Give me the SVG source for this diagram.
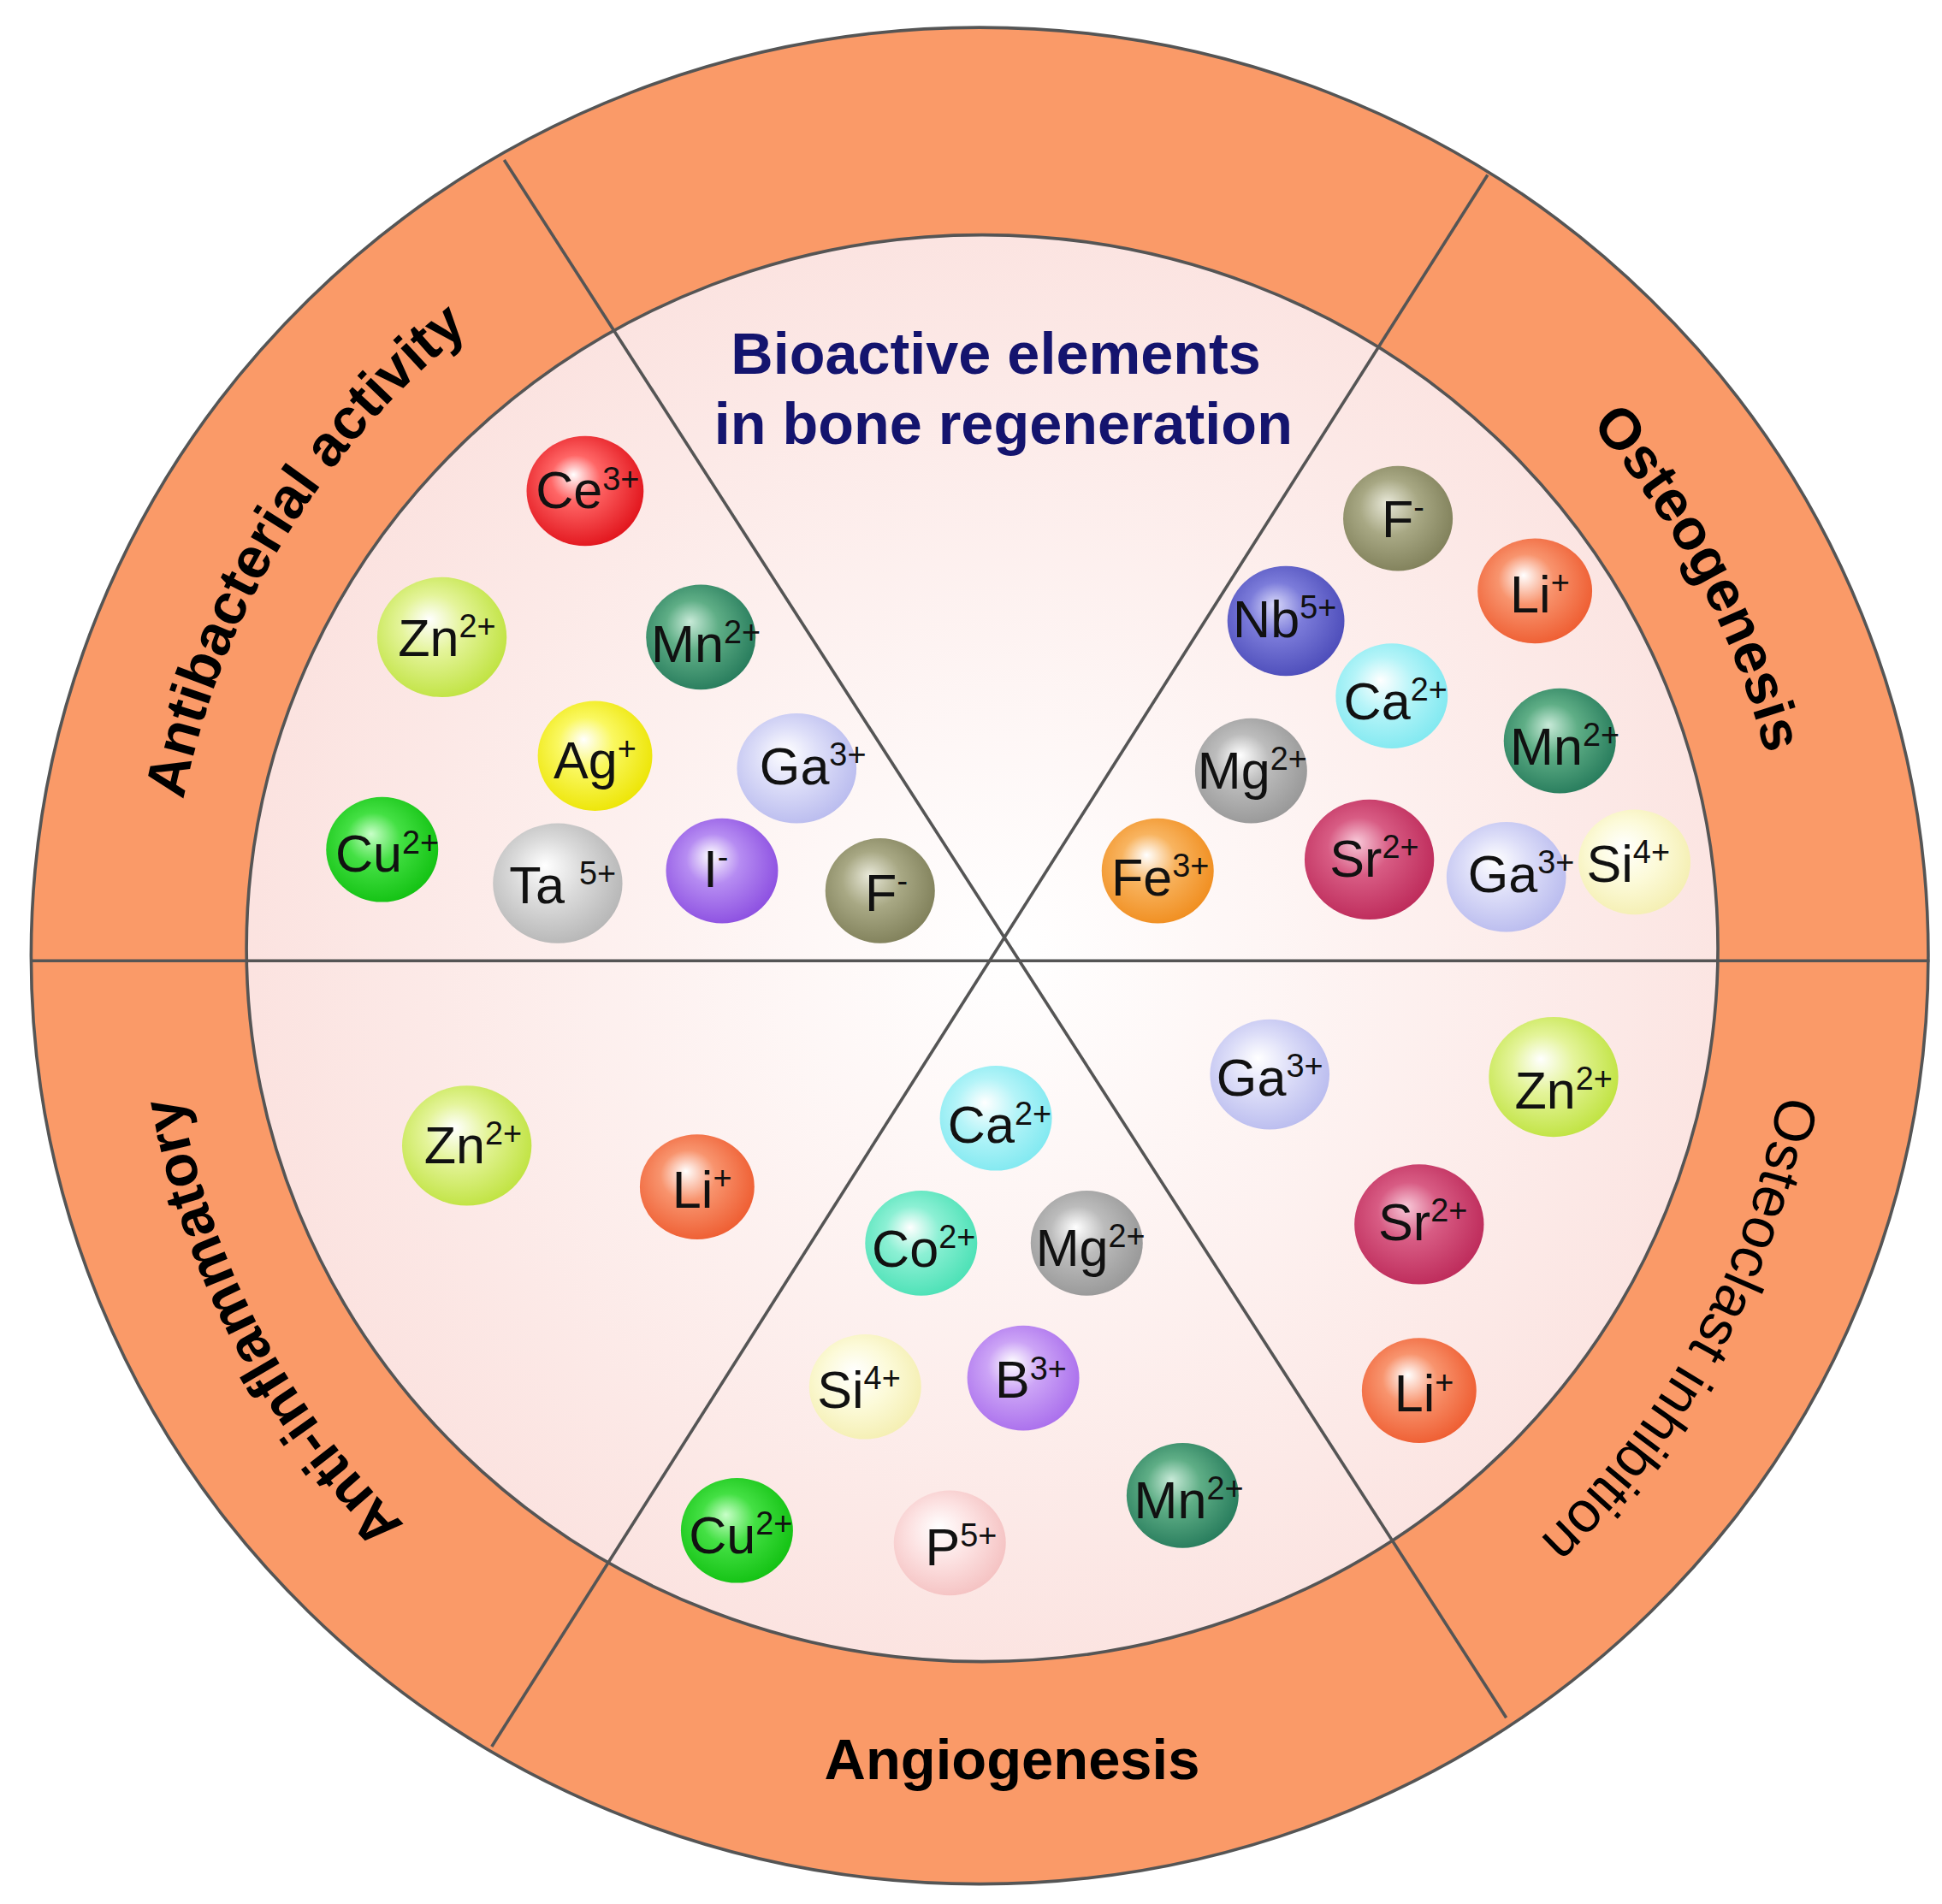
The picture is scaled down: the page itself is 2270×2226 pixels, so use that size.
<svg xmlns="http://www.w3.org/2000/svg" width="2270" height="2226" viewBox="0 0 2270 2226">
<style>
.lab{font-family:"Liberation Sans",Arial,sans-serif;font-weight:bold;font-size:46px;fill:#000}
.ion{font-family:"Liberation Sans",Arial,sans-serif;font-size:42px;fill:#111;text-anchor:middle}
.sup{font-size:26px}
.ttl{font-family:"Liberation Sans",Arial,sans-serif;font-weight:bold;font-size:47px;fill:#14146E;text-anchor:middle}
.ln{stroke:#555;stroke-width:2.5;fill:none}
</style>
<defs>
<radialGradient id="bg" cx="0.52" cy="0.5" r="0.55"><stop offset="0" stop-color="#ffffff"/><stop offset="1" stop-color="#FBE1DE"/></radialGradient>
<radialGradient id="red" cx="0.45" cy="0.45" r="0.6" fx="0.4" fy="0.35"><stop offset="0" stop-color="#fff"/><stop offset="0.35" stop-color="#F66"/><stop offset="1" stop-color="#E01018"/></radialGradient>
<radialGradient id="yg" cx="0.45" cy="0.45" r="0.6" fx="0.4" fy="0.35"><stop offset="0" stop-color="#fff"/><stop offset="0.4" stop-color="#E4F49A"/><stop offset="1" stop-color="#BEE23C"/></radialGradient>
<radialGradient id="dg" cx="0.45" cy="0.45" r="0.6" fx="0.4" fy="0.35"><stop offset="0" stop-color="#C8EAD8"/><stop offset="0.4" stop-color="#5FAE86"/><stop offset="1" stop-color="#24795A"/></radialGradient>
<radialGradient id="yel" cx="0.45" cy="0.45" r="0.6" fx="0.4" fy="0.35"><stop offset="0" stop-color="#fff"/><stop offset="0.4" stop-color="#FAF860"/><stop offset="1" stop-color="#ECE400"/></radialGradient>
<radialGradient id="lav" cx="0.45" cy="0.45" r="0.6" fx="0.4" fy="0.35"><stop offset="0" stop-color="#fff"/><stop offset="0.45" stop-color="#DCDDF8"/><stop offset="1" stop-color="#B8BAEE"/></radialGradient>
<radialGradient id="grn" cx="0.45" cy="0.45" r="0.6" fx="0.4" fy="0.35"><stop offset="0" stop-color="#C8FFC8"/><stop offset="0.4" stop-color="#44E044"/><stop offset="1" stop-color="#10C010"/></radialGradient>
<radialGradient id="lgr" cx="0.45" cy="0.45" r="0.6" fx="0.4" fy="0.35"><stop offset="0" stop-color="#fff"/><stop offset="0.45" stop-color="#DADADA"/><stop offset="1" stop-color="#B4B4B4"/></radialGradient>
<radialGradient id="pur" cx="0.45" cy="0.45" r="0.6" fx="0.4" fy="0.35"><stop offset="0" stop-color="#fff"/><stop offset="0.4" stop-color="#B68CF2"/><stop offset="1" stop-color="#8A4CE0"/></radialGradient>
<radialGradient id="olv" cx="0.45" cy="0.45" r="0.6" fx="0.4" fy="0.35"><stop offset="0" stop-color="#E8E8D8"/><stop offset="0.45" stop-color="#A8A884"/><stop offset="1" stop-color="#7E7E58"/></radialGradient>
<radialGradient id="org" cx="0.45" cy="0.45" r="0.6" fx="0.4" fy="0.35"><stop offset="0" stop-color="#fff"/><stop offset="0.4" stop-color="#F8946E"/><stop offset="1" stop-color="#EE5A2E"/></radialGradient>
<radialGradient id="blu" cx="0.45" cy="0.45" r="0.6" fx="0.4" fy="0.35"><stop offset="0" stop-color="#D8D8FA"/><stop offset="0.4" stop-color="#7C7CDA"/><stop offset="1" stop-color="#4A4AB8"/></radialGradient>
<radialGradient id="cya" cx="0.45" cy="0.45" r="0.6" fx="0.4" fy="0.35"><stop offset="0" stop-color="#fff"/><stop offset="0.45" stop-color="#B4F4F8"/><stop offset="1" stop-color="#7EE8F0"/></radialGradient>
<radialGradient id="gry" cx="0.45" cy="0.45" r="0.6" fx="0.4" fy="0.35"><stop offset="0" stop-color="#fff"/><stop offset="0.4" stop-color="#BCBCBC"/><stop offset="1" stop-color="#969696"/></radialGradient>
<radialGradient id="crm" cx="0.45" cy="0.45" r="0.6" fx="0.4" fy="0.35"><stop offset="0" stop-color="#F8C8D8"/><stop offset="0.4" stop-color="#D85C84"/><stop offset="1" stop-color="#BC2858"/></radialGradient>
<radialGradient id="fe" cx="0.45" cy="0.45" r="0.6" fx="0.4" fy="0.35"><stop offset="0" stop-color="#fff"/><stop offset="0.4" stop-color="#F8B460"/><stop offset="1" stop-color="#F08C1C"/></radialGradient>
<radialGradient id="lyl" cx="0.45" cy="0.45" r="0.6" fx="0.4" fy="0.35"><stop offset="0" stop-color="#fff"/><stop offset="0.5" stop-color="#FCFAD8"/><stop offset="1" stop-color="#F4EEB0"/></radialGradient>
<radialGradient id="aq" cx="0.45" cy="0.45" r="0.6" fx="0.4" fy="0.35"><stop offset="0" stop-color="#fff"/><stop offset="0.4" stop-color="#8CF0D4"/><stop offset="1" stop-color="#48E0B4"/></radialGradient>
<radialGradient id="vio" cx="0.45" cy="0.45" r="0.6" fx="0.4" fy="0.35"><stop offset="0" stop-color="#fff"/><stop offset="0.4" stop-color="#CCA4F6"/><stop offset="1" stop-color="#A86CEC"/></radialGradient>
<radialGradient id="pnk" cx="0.45" cy="0.45" r="0.6" fx="0.4" fy="0.35"><stop offset="0" stop-color="#fff"/><stop offset="0.5" stop-color="#FCE0E0"/><stop offset="1" stop-color="#F4C0C0"/></radialGradient>
<path id="ring" d="M 135,765 A 652 645 0 1 1 1439,765 A 652 645 0 1 1 135,765"/>
</defs>
<g transform="scale(1.4551,1.4606)">
<g id="background">
<ellipse cx="787" cy="765" rx="762" ry="743" fill="#FA9A68" stroke="#555" stroke-width="2.5"/>
<ellipse cx="789" cy="759" rx="591" ry="571" fill="url(#bg)" stroke="#555" stroke-width="2.5"/>
</g>
<g id="connectors">
<line class="ln" x1="25" y1="769" x2="1550" y2="769"/>
<line class="ln" x1="405" y1="128" x2="1210" y2="1375"/>
<line class="ln" x1="1195" y1="140" x2="395" y2="1398"/>
</g>
<g id="title">
<text class="ttl" x="800" y="299">Bioactive elements</text>
<text class="ttl" x="806" y="355">in bone regeneration</text>
</g>
<g id="labels">
<text class="lab" text-anchor="middle"><textPath href="#ring" startOffset="8.6%">Antibacterial activity</textPath></text>
<text class="lab" text-anchor="middle"><textPath href="#ring" startOffset="42.3%">Osteogenesis</textPath></text>
<text class="lab" text-anchor="middle" style="font-weight:normal"><textPath href="#ring" startOffset="57.8%">Osteoclast inhibition</textPath></text>
<text class="lab" text-anchor="middle"><textPath href="#ring" startOffset="92.4%">Anti-inflammatory</textPath></text>
<text class="lab" x="813" y="1424" text-anchor="middle">Angiogenesis</text>
</g>
<g id="ions">
<g id="n1"><ellipse cx="470" cy="393" rx="47" ry="44" fill="url(#red)"/><text class="ion" x="472" y="407">Ce<tspan class="sup" dy="-15">3+</tspan></text></g>
<g id="n2"><ellipse cx="355" cy="510" rx="52" ry="48" fill="url(#yg)"/><text class="ion" x="359" y="525">Zn<tspan class="sup" dy="-15">2+</tspan></text></g>
<g id="n3"><ellipse cx="563" cy="510" rx="44" ry="42" fill="url(#dg)"/><text class="ion" x="567" y="530">Mn<tspan class="sup" dy="-15">2+</tspan></text></g>
<g id="n4"><ellipse cx="478" cy="605" rx="46" ry="44" fill="url(#yel)"/><text class="ion" x="478" y="623">Ag<tspan class="sup" dy="-15">+</tspan></text></g>
<g id="n5"><ellipse cx="640" cy="615" rx="48" ry="44" fill="url(#lav)"/><text class="ion" x="653" y="628">Ga<tspan class="sup" dy="-15">3+</tspan></text></g>
<g id="n6"><ellipse cx="307" cy="680" rx="45" ry="42" fill="url(#grn)"/><text class="ion" x="311" y="698">Cu<tspan class="sup" dy="-15">2+</tspan></text></g>
<g id="n7"><ellipse cx="448" cy="707" rx="52" ry="48" fill="url(#lgr)"/><text class="ion" x="452" y="723">Ta <tspan class="sup" dy="-15">5+</tspan></text></g>
<g id="n8"><ellipse cx="580" cy="697" rx="45" ry="42" fill="url(#pur)"/><text class="ion" x="575" y="710">I<tspan class="sup" dy="-15">-</tspan></text></g>
<g id="n9"><ellipse cx="707" cy="713" rx="44" ry="42" fill="url(#olv)"/><text class="ion" x="712" y="729">F<tspan class="sup" dy="-15">-</tspan></text></g>
<g id="n10"><ellipse cx="1123" cy="415" rx="44" ry="42" fill="url(#olv)"/><text class="ion" x="1127" y="430">F<tspan class="sup" dy="-15">-</tspan></text></g>
<g id="n11"><ellipse cx="1233" cy="473" rx="46" ry="42" fill="url(#org)"/><text class="ion" x="1237" y="490">Li<tspan class="sup" dy="-15">+</tspan></text></g>
<g id="n12"><ellipse cx="1033" cy="497" rx="47" ry="44" fill="url(#blu)"/><text class="ion" x="1032" y="510">Nb<tspan class="sup" dy="-15">5+</tspan></text></g>
<g id="n13"><ellipse cx="1118" cy="557" rx="45" ry="42" fill="url(#cya)"/><text class="ion" x="1121" y="576">Ca<tspan class="sup" dy="-15">2+</tspan></text></g>
<g id="n14"><ellipse cx="1253" cy="593" rx="45" ry="42" fill="url(#dg)"/><text class="ion" x="1257" y="612">Mn<tspan class="sup" dy="-15">2+</tspan></text></g>
<g id="n15"><ellipse cx="1005" cy="617" rx="45" ry="42" fill="url(#gry)"/><text class="ion" x="1006" y="631">Mg<tspan class="sup" dy="-15">2+</tspan></text></g>
<g id="n16"><ellipse cx="1100" cy="688" rx="52" ry="48" fill="url(#crm)"/><text class="ion" x="1104" y="702">Sr<tspan class="sup" dy="-15">2+</tspan></text></g>
<g id="n17"><ellipse cx="930" cy="697" rx="45" ry="42" fill="url(#fe)"/><text class="ion" x="932" y="717">Fe<tspan class="sup" dy="-15">3+</tspan></text></g>
<g id="n18"><ellipse cx="1210" cy="702" rx="48" ry="44" fill="url(#lav)"/><text class="ion" x="1222" y="714">Ga<tspan class="sup" dy="-15">3+</tspan></text></g>
<g id="n19"><ellipse cx="1313" cy="690" rx="45" ry="42" fill="url(#lyl)"/><text class="ion" x="1308" y="706">Si<tspan class="sup" dy="-15">4+</tspan></text></g>
<g id="n20"><ellipse cx="375" cy="917" rx="52" ry="48" fill="url(#yg)"/><text class="ion" x="380" y="931">Zn<tspan class="sup" dy="-15">2+</tspan></text></g>
<g id="n21"><ellipse cx="560" cy="950" rx="46" ry="42" fill="url(#org)"/><text class="ion" x="564" y="967">Li<tspan class="sup" dy="-15">+</tspan></text></g>
<g id="n22"><ellipse cx="800" cy="895" rx="45" ry="42" fill="url(#cya)"/><text class="ion" x="803" y="915">Ca<tspan class="sup" dy="-15">2+</tspan></text></g>
<g id="n23"><ellipse cx="740" cy="995" rx="45" ry="42" fill="url(#aq)"/><text class="ion" x="742" y="1014">Co<tspan class="sup" dy="-15">2+</tspan></text></g>
<g id="n24"><ellipse cx="873" cy="995" rx="45" ry="42" fill="url(#gry)"/><text class="ion" x="876" y="1013">Mg<tspan class="sup" dy="-15">2+</tspan></text></g>
<g id="n25"><ellipse cx="695" cy="1110" rx="45" ry="42" fill="url(#lyl)"/><text class="ion" x="690" y="1127">Si<tspan class="sup" dy="-15">4+</tspan></text></g>
<g id="n26"><ellipse cx="822" cy="1103" rx="45" ry="42" fill="url(#vio)"/><text class="ion" x="828" y="1119">B<tspan class="sup" dy="-15">3+</tspan></text></g>
<g id="n27"><ellipse cx="592" cy="1225" rx="45" ry="42" fill="url(#grn)"/><text class="ion" x="595" y="1243">Cu<tspan class="sup" dy="-15">2+</tspan></text></g>
<g id="n28"><ellipse cx="763" cy="1235" rx="45" ry="42" fill="url(#pnk)"/><text class="ion" x="772" y="1253">P<tspan class="sup" dy="-15">5+</tspan></text></g>
<g id="n29"><ellipse cx="950" cy="1197" rx="45" ry="42" fill="url(#dg)"/><text class="ion" x="955" y="1215">Mn<tspan class="sup" dy="-15">2+</tspan></text></g>
<g id="n30"><ellipse cx="1020" cy="860" rx="48" ry="44" fill="url(#lav)"/><text class="ion" x="1020" y="877">Ga<tspan class="sup" dy="-15">3+</tspan></text></g>
<g id="n31"><ellipse cx="1248" cy="862" rx="52" ry="48" fill="url(#yg)"/><text class="ion" x="1256" y="887">Zn<tspan class="sup" dy="-15">2+</tspan></text></g>
<g id="n32"><ellipse cx="1140" cy="980" rx="52" ry="48" fill="url(#crm)"/><text class="ion" x="1143" y="993">Sr<tspan class="sup" dy="-15">2+</tspan></text></g>
<g id="n33"><ellipse cx="1140" cy="1113" rx="46" ry="42" fill="url(#org)"/><text class="ion" x="1144" y="1130">Li<tspan class="sup" dy="-15">+</tspan></text></g>
</g>
</g>
</svg>
